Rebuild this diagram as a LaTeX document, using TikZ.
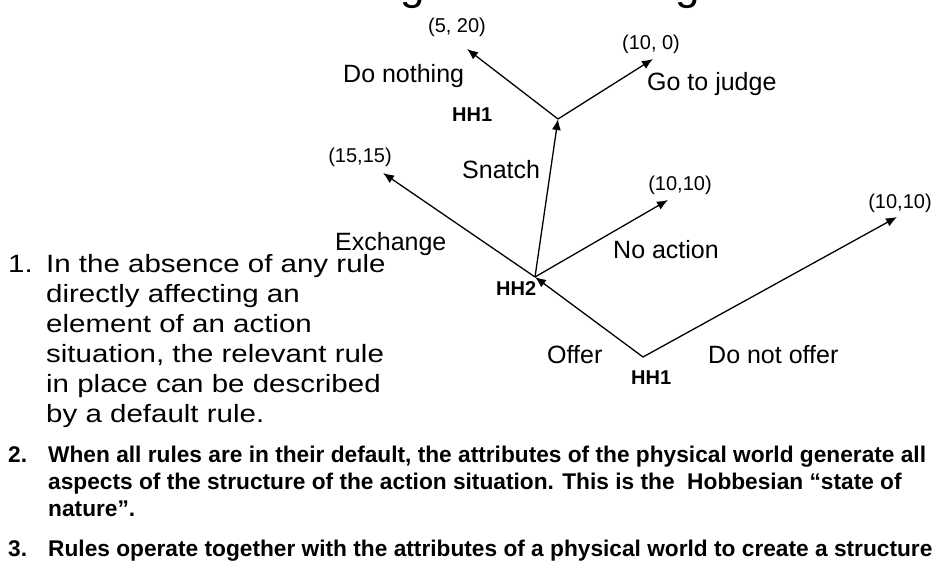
\documentclass[tikz,border=0pt]{standalone}
\usepackage{fontspec}
\setmainfont{Liberation Sans}
\newfontfamily\widefont[FakeStretch=1.18]{Liberation Sans}
\usetikzlibrary{arrows.meta}
\tikzset{
  branch/.style={line width=1.3pt, -{Latex[length=11pt,width=9pt]}},
  lbl/.style={inner sep=0pt, anchor=base west, font=\fontsize{25}{30}\selectfont},
  pay/.style={inner sep=0pt, anchor=center, font=\fontsize{20}{24}\selectfont},
  hh/.style={inner sep=0pt, anchor=base west, font=\bfseries\fontsize{20}{24}\selectfont},
  itemone/.style={inner sep=0pt, anchor=base west, font=\widefont\fontsize{25}{31}\selectfont},
  itembold/.style={inner sep=0pt, anchor=base west, font=\bfseries\fontsize{22.7}{27}\selectfont},
  ttl/.style={inner sep=0pt, anchor=base west, font=\fontsize{44}{50}\selectfont},
}
\begin{document}
\begin{tikzpicture}[x=1pt,y=-1pt]
\useasboundingbox (0,0) rectangle (935,560);
\begin{scope}
\clip (0,0) rectangle (935,560);
% cut-off title glyphs
\node[ttl] (tg1) at (400,-1) {g};
\node[ttl] (tg2) at (675,-1) {g};
% tree points
\coordinate (root) at (643,357);
\coordinate (hh2) at (535,277);
\coordinate (jn) at (558,119);
\coordinate (exend) at (383,173);
\coordinate (naend) at (668,200);
\coordinate (dnoend) at (897,217);
\coordinate (dnend) at (467,49);
\coordinate (gjend) at (653,59);
% connectors
\draw[branch] (root) -- (hh2);
\draw[branch] (root) -- (dnoend);
\draw[branch] (hh2) -- (exend);
\draw[branch] (hh2) -- (naend);
\draw[branch] (hh2) -- (jn);
\draw[branch] (jn) -- (dnend);
\draw[branch] (jn) -- (gjend);
% payoffs
\node[pay] (p1) at (457,27) {(5, 20)};
\node[pay] (p2) at (651,44) {(10, 0)};
\node[pay] (p3) at (360,157) {(15,15)};
\node[pay] (p4) at (680,185) {(10,10)};
\node[pay] (p5) at (900,203) {(10,10)};
% action labels
\node[lbl] (l1) at (343,82) {Do nothing};
\node[lbl] (l2) at (647,90) {Go to judge};
\node[lbl] (l3) at (462,178) {Snatch};
\node[lbl] (l4) at (335,250) {Exchange};
\node[lbl] (l5) at (613,258) {No action};
\node[lbl] (l6) at (547,363) {Offer};
\node[lbl] (l7) at (708,363) {Do not offer};
% players
\node[hh] (h1) at (452,121) {HH1};
\node[hh] (h2) at (496,295) {HH2};
\node[hh] (h3) at (631,384) {HH1};
% item 1
\node[itemone] (n1) at (8,272) {1.};
\node[itemone] (a1) at (46,272) {In the absence of any rule};
\node[itemone] (a2) at (46,302) {directly affecting an};
\node[itemone] (a3) at (46,332) {element of an action};
\node[itemone] (a4) at (46,362) {situation, the relevant rule};
\node[itemone] (a5) at (46,392) {in place can be described};
\node[itemone] (a6) at (46,422) {by a default rule.};
% items 2 and 3
\node[itembold] (n2) at (8,462) {2.};
\node[itembold] (b1) at (48,462) {When all rules are in their default, the attributes of the physical world generate all};
\node[itembold] (b2) at (48,489) {aspects of the structure of the action situation. This is the\ \ Hobbesian “state of};
\node[itembold] (b3) at (48,516) {nature”.};
\node[itembold] (n3) at (8,556) {3.};
\node[itembold] (c1) at (48,556) {Rules operate together with the attributes of a physical world to create a structure};
\end{scope}
\end{tikzpicture}
\end{document}
